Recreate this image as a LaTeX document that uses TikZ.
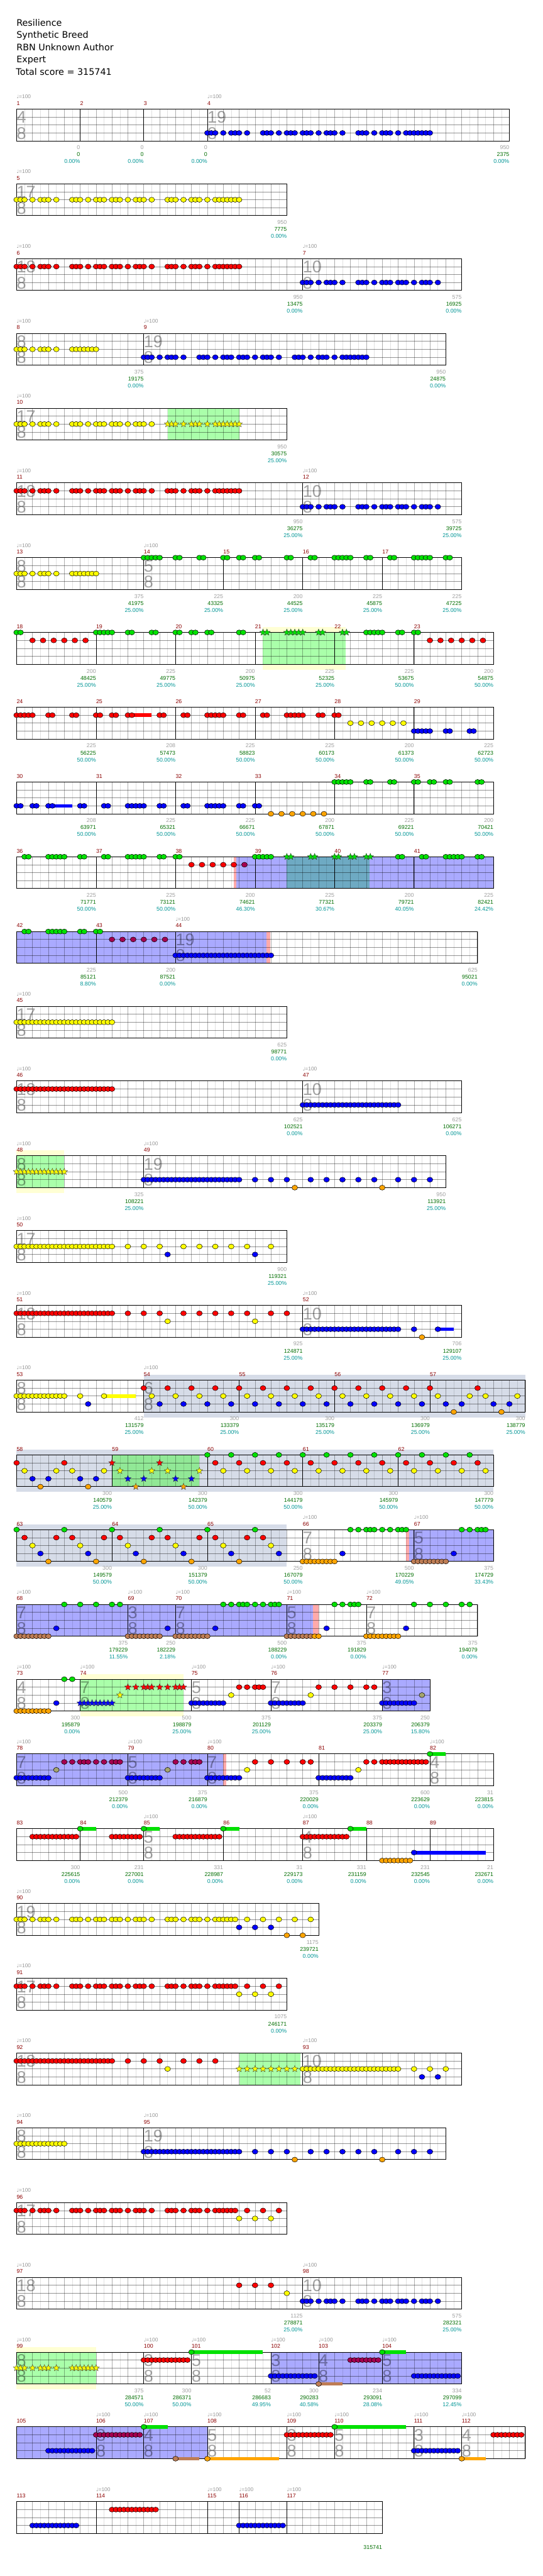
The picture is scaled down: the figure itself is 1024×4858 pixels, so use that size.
\documentclass[tikz,border=0pt]{standalone}
\usepackage{fontspec}
\setmainfont{DejaVu Sans}
\newfontfamily\lib{Liberation Sans}
\newfontfamily\dvs{DejaVu Sans}
\usetikzlibrary{shapes.geometric}
\definecolor{ngreen}{RGB}{0,225,0}
\definecolor{nred}{RGB}{255,0,0}
\definecolor{nyel}{RGB}{255,255,0}
\definecolor{nblue}{RGB}{0,0,255}
\definecolor{norg}{RGB}{255,165,0}
\definecolor{ared}{RGB}{165,0,80}
\definecolor{ayel}{RGB}{165,165,110}
\definecolor{aorg}{RGB}{190,125,85}
\definecolor{spgreen}{RGB}{170,255,170}
\definecolor{spgreenb}{RGB}{145,232,150}
\definecolor{spyel}{RGB}{255,255,212}
\definecolor{actblue}{RGB}{170,170,255}
\definecolor{overlap}{RGB}{110,170,195}
\definecolor{pinkst}{RGB}{255,170,170}
\definecolor{solobg}{RGB}{214,220,232}
\definecolor{mnum}{RGB}{140,0,0}
\definecolor{tgray}{RGB}{150,150,150}
\definecolor{sgray}{RGB}{160,160,160}
\definecolor{sgreen}{RGB}{0,110,0}
\definecolor{steal}{RGB}{0,150,150}
\tikzset{
 rowsc/.style={shift={(31.3pt,{-205.7pt-141pt*#1})},x=15pt,y=-15pt},
 nt/.style={draw=black,line width=0.6pt},
 spn/.style={star,star points=5,star point ratio=2.3,minimum size=13pt,inner sep=0pt,draw=black!80,line width=0.45pt},
 mnl/.style={anchor=base west,inner sep=0pt,text=mnum,font=\lib\fontsize{10.5}{12}\selectfont},
 tml/.style={anchor=base west,inner sep=0pt,text=tgray,font=\lib\fontsize{10}{12}\selectfont},
 tsl/.style={anchor=base west,inner sep=0pt,text=black,text opacity=0.36,font=\lib\fontsize{32}{32}\selectfont},
 st1/.style={anchor=base east,inner sep=0pt,text=sgray,font=\lib\fontsize{10.5}{12}\selectfont},
 st2/.style={st1,text=sgreen},
 st3/.style={st1,text=steal},
 hdr/.style={anchor=base west,inner sep=0pt,font=\dvs\fontsize{17}{20}\selectfont},
}
\newcommand\Bg[1]{\fill[white] (0,0) rectangle (#1,4);}
\newcommand\Grid[1]{\foreach \i in {1,...,#1}{\ifodd\i\relax\draw[black,opacity=0.12,line width=0.6pt] (\i,0)--(\i,4);\else\draw[black,opacity=0.32,line width=0.6pt] (\i,0)--(\i,4);\fi}\foreach \j in {1,2,3}{\draw[black,opacity=0.42,line width=0.8pt] (0,\j)--(#1,\j);}}
\newcommand\Frame[1]{\draw[line width=1.1pt] (0,0) rectangle (#1,4);}
\newcommand\Bars[1]{\foreach \b in {#1}{\draw[line width=0.7pt] (\b,0)--(\b,4);}}
\newcommand\Solo[2]{\fill[solobg] (#1,-0.67) rectangle (#2,4.67);}
\newcommand\SPy[2]{\fill[spyel] (#1,-0.67) rectangle (#2,4.67);}
\newcommand\SPg[2]{\fill[spgreen] (#1,0) rectangle (#2,4);}
\newcommand\Act[2]{\fill[actblue] (#1,0) rectangle (#2,4);}
\newcommand\Pink[2]{\fill[pinkst] (#1,0) rectangle (#2,4);}
\newcommand\Nt[3]{\foreach \q in {#3}{\draw[nt,fill=#1] (\q,#2) ellipse[x radius=5.4pt,y radius=4.7pt];}}
\newcommand\Ns[4]{\foreach \q in #4{\draw[nt,fill=#1] ({#3+\q},#2) ellipse[x radius=5.4pt,y radius=4.7pt];}}
\newcommand\Sr[3]{\foreach \q in {#3}{\node[spn,fill=#1] at (\q,#2) {};}}
\newcommand\Su[4]{\fill[#1] (#3,#2-0.22) rectangle (#4,#2+0.22);}
\newcommand\MN[2]{\node[mnl] at (#1,-0.49) {#2};}
\newcommand\TM[1]{\node[tml] at (#1,-1.31) {{\dvs\fontsize{9}{10}\selectfont ♩}=100};}
\newcommand\TSig[3]{\node[tsl] at (#1,1.78) {#2};\node[tsl] at (#1,3.78) {#3};}
\newcommand\Stat[4]{\node[st1] at (#1,5.09) {#2};\node[st2] at (#1,5.97) {#3};\node[st3] at (#1,6.84) {#4};}
\def\PP{0,0.5,1,2,3,3.5,4,5,7,7.5,8,9,10,10.5,11,12,12.5,13,14,15,15.5,16,17,19,19.5,20,21,22,22.5,23,24,25,25.5,26,26.5,27,27.5,28}
\def\PPm{0,0.5,1,2,3,3.5,4,5,7,7.5,8,9,10,10.5,11,12,12.5,13,14,15,15.5,16,17,19,19.5,20,21,22,22.5,23,24,25,25.5,26,26.5,27,27.5}
\def\QQ{0,0.5,1,2,3,3.5,4,5,7,7.5,8,9,10,10.5,11,12,12.5,13,14,15,15.5,16,17}
\def\RR{0,0.5,1,2,3,3.5,4,5,7,7.5,8,8.5,9,9.5,10}
\begin{document}
\begin{tikzpicture}
\useasboundingbox (0,0) rectangle (1024pt,-4858pt);
\fill[white] (0,0) rectangle (1024pt,-4858pt);
\node[hdr] (h1) at (31pt,-49.3pt) {Resilience};
\node[hdr] (h2) at (31pt,-72.3pt) {Synthetic Breed};
\node[hdr] (h3) at (31pt,-95.3pt) {RBN Unknown Author};
\node[hdr] (h4) at (31pt,-118.3pt) {Expert};
\node[hdr] (h5) at (30pt,-141.3pt) {Total score = 315741};
% row 0
\begin{scope}[rowsc=0]
\Bg{62}\Grid{62}\TSig{0}{4}{8}\TSig{24}{19}{8}\Frame{62}\Bars{8,16,24}
\Ns{nblue}{3}{24}{\PP}
\TM{0}\TM{24}\MN{0}{1}\MN{8}{2}\MN{16}{3}\MN{24}{4}
\Stat{8}{0}{0}{0.00\%}\Stat{16}{0}{0}{0.00\%}\Stat{24}{0}{0}{0.00\%}\Stat{62}{950}{2375}{0.00\%}
\end{scope}
% row 1
\begin{scope}[rowsc=1]
\Bg{34}\Grid{34}\TSig{0}{17}{8}\Frame{34}
\Ns{nyel}{2}{0}{\PP}
\TM{0}\MN{0}{5}\Stat{34}{950}{7775}{0.00\%}
\end{scope}
% row 2
\begin{scope}[rowsc=2]
\Bg{56}\Grid{56}\TSig{0}{18}{8}\TSig{36}{10}{8}\Frame{56}\Bars{36}
\Ns{nred}{1}{0}{\PP}\Ns{nblue}{3}{36}{\QQ}
\TM{0}\TM{36}\MN{0}{6}\MN{36}{7}
\Stat{36}{950}{13475}{0.00\%}\Stat{56}{575}{16925}{0.00\%}
\end{scope}
% row 3
\begin{scope}[rowsc=3]
\Bg{54}\Grid{54}\TSig{0}{8}{8}\TSig{16}{19}{8}\Frame{54}\Bars{16}
\Ns{nyel}{2}{0}{\RR}\Ns{nblue}{3}{16}{\PP}
\TM{0}\TM{16}\MN{0}{8}\MN{16}{9}
\Stat{16}{375}{19175}{0.00\%}\Stat{54}{950}{24875}{0.00\%}
\end{scope}
% row 4
\begin{scope}[rowsc=4]
\Bg{34}\SPg{19}{28}\Grid{34}\TSig{0}{17}{8}\Frame{34}
\Ns{nyel}{2}{0}{\QQ}\Sr{nyel}{2}{19,19.5,20,21,22,22.5,23,24,25,25.5,26,26.5,27,27.5,28}
\TM{0}\MN{0}{10}\Stat{34}{950}{30575}{25.00\%}
\end{scope}
% row 5
\begin{scope}[rowsc=5]
\Bg{56}\Grid{56}\TSig{0}{18}{8}\TSig{36}{10}{8}\Frame{56}\Bars{36}
\Ns{nred}{1}{0}{\PP}\Ns{nblue}{3}{36}{\QQ}
\TM{0}\TM{36}\MN{0}{11}\MN{36}{12}
\Stat{36}{950}{36275}{25.00\%}\Stat{56}{575}{39725}{25.00\%}
\end{scope}
% row 6
\begin{scope}[rowsc=6]
\Bg{56}\Grid{56}\TSig{0}{8}{8}\TSig{16}{5}{8}\Frame{56}\Bars{16,26,36,46}
\Ns{nyel}{2}{0}{\RR}
\Nt{ngreen}{0}{16,16.5,17,17.5,18,20,20.5,23,23.5,26,26.5,28,28.5,30,30.5,34,34.5,37,37.5,40,40.5,41,41.5,42,44,44.5,47,47.5,50,50.5,51,51.5,52,54,54.5}
\TM{0}\TM{16}\MN{0}{13}\MN{16}{14}\MN{26}{15}\MN{36}{16}\MN{46}{17}
\Stat{16}{375}{41975}{25.00\%}\Stat{26}{225}{43325}{25.00\%}\Stat{36}{200}{44525}{25.00\%}\Stat{46}{225}{45875}{25.00\%}\Stat{56}{225}{47225}{25.00\%}
\end{scope}
% row 7
\begin{scope}[rowsc=7]
\Bg{60}\SPy{31}{41.4}\SPg{31}{41.4}\Grid{60}\Frame{60}\Bars{10,20,30,40,50}
\Nt{ngreen}{0}{0,0.5,10,10.5,11,11.5,12,14,14.5,17,17.5,20,20.5,22,22.5,24,24.5,28,28.5,44,44.5,45,45.5,46,48,48.5,50,50.5}
\Sr{ngreen}{0}{31,31.5,34,34.5,35,35.5,36,38,38.5,41,41.5}
\Nt{nred}{1}{2,3.33,4.67,6,7.33,8.67,52,53.33,54.67,56,57.33,58.67}
\MN{0}{18}\MN{10}{19}\MN{20}{20}\MN{30}{21}\MN{40}{22}\MN{50}{23}
\Stat{10}{200}{48425}{25.00\%}\Stat{20}{225}{49775}{25.00\%}\Stat{30}{200}{50975}{25.00\%}\Stat{40}{225}{52325}{25.00\%}\Stat{50}{225}{53675}{50.00\%}\Stat{60}{200}{54875}{50.00\%}
\end{scope}
% row 8
\begin{scope}[rowsc=8]
\Bg{60}\Grid{60}\Frame{60}\Bars{10,20,30,40,50}
\Su{nred}{1}{14.5}{17}
\Nt{nred}{1}{0,0.5,1,1.5,2,4,4.5,7,7.5,10,10.5,12,12.5,14,14.5,18,18.5,21,21.5,24,24.5,25,25.5,26,28,28.5,31,31.5,34,34.5,35,35.5,36,38,38.5,40,40.5}
\Nt{nyel}{2}{42,43.33,44.67,46,47.33,48.67}
\Nt{nblue}{3}{50,50.5,51,51.5,52,54,54.5,57,57.5}
\MN{0}{24}\MN{10}{25}\MN{20}{26}\MN{30}{27}\MN{40}{28}\MN{50}{29}
\Stat{10}{225}{56225}{50.00\%}\Stat{20}{208}{57473}{50.00\%}\Stat{30}{225}{58823}{50.00\%}\Stat{40}{225}{60173}{50.00\%}\Stat{50}{200}{61373}{50.00\%}\Stat{60}{225}{62723}{50.00\%}
\end{scope}
% row 9
\begin{scope}[rowsc=9]
\Bg{60}\Grid{60}\Frame{60}\Bars{10,20,30,40,50}
\Su{nblue}{3}{4.5}{7}
\Nt{nblue}{3}{0,0.5,2,2.5,4,4.5,8,8.5,11,11.5,14,14.5,15,15.5,16,18,18.5,21,21.5,24,24.5,25,25.5,26,28,28.5,30,30.5}
\Nt{norg}{4}{32,33.33,34.67,36,37.33,38.67}
\Nt{ngreen}{0}{40,40.5,41,41.5,42,44,44.5,47,47.5,50,50.5,52,52.5,54,54.5,58,58.5}
\MN{0}{30}\MN{10}{31}\MN{20}{32}\MN{30}{33}\MN{40}{34}\MN{50}{35}
\Stat{10}{208}{63971}{50.00\%}\Stat{20}{225}{65321}{50.00\%}\Stat{30}{225}{66671}{50.00\%}\Stat{40}{200}{67871}{50.00\%}\Stat{50}{225}{69221}{50.00\%}\Stat{60}{200}{70421}{50.00\%}
\end{scope}
% row 10
\begin{scope}[rowsc=10]
\Bg{60}\Act{27.3}{60}\Pink{27.3}{27.65}\fill[overlap] (34,0) rectangle (44.4,4);\Grid{60}\Frame{60}\Bars{10,20,30,40,50}
\Nt{ngreen}{0}{1,1.5,4,4.5,5,5.5,6,8,8.5,11,11.5,14,14.5,15,15.5,16,18,18.5,20,20.5,30,30.5,31,31.5,32,48,48.5,51,51.5,54,54.5,55,55.5,56,58,58.5}
\Sr{ngreen}{0}{34,34.5,37,37.5,40,40.5,42,42.5,44,44.5}
\Nt{nred}{1}{22,23.33,24.67,26,27.33}\Nt{ared}{1}{28.67}
\MN{0}{36}\MN{10}{37}\MN{20}{38}\MN{30}{39}\MN{40}{40}\MN{50}{41}
\Stat{10}{225}{71771}{50.00\%}\Stat{20}{225}{73121}{50.00\%}\Stat{30}{200}{74621}{46.30\%}\Stat{40}{225}{77321}{30.67\%}\Stat{50}{200}{79721}{40.05\%}\Stat{60}{225}{82421}{24.42\%}
\end{scope}
% row 11
\begin{scope}[rowsc=11]
\Bg{58}\Act{0}{31.7}\Pink{31.4}{31.9}\Grid{58}\TSig{20}{19}{8}\Frame{58}\Bars{10,20}
\Nt{ngreen}{0}{1,1.5,4,4.5,5,5.5,6,8,8.5,10,10.5}
\Nt{ared}{1}{12,13.33,14.67,16,17.33,18.67}
\Nt{nblue}{3}{20,20.5,...,32}
\TM{20}\MN{0}{42}\MN{10}{43}\MN{20}{44}
\Stat{10}{225}{85121}{8.80\%}\Stat{20}{200}{87521}{0.00\%}\Stat{58}{625}{95021}{0.00\%}
\end{scope}
% row 12
\begin{scope}[rowsc=12]
\Bg{34}\Grid{34}\TSig{0}{17}{8}\Frame{34}
\Nt{nyel}{2}{0,0.5,...,12}
\TM{0}\MN{0}{45}\Stat{34}{625}{98771}{0.00\%}
\end{scope}
% row 13
\begin{scope}[rowsc=13]
\Bg{56}\Grid{56}\TSig{0}{18}{8}\TSig{36}{10}{8}\Frame{56}\Bars{36}
\Nt{nred}{1}{0,0.5,...,12}\Nt{nblue}{3}{36,36.5,...,48}
\TM{0}\TM{36}\MN{0}{46}\MN{36}{47}
\Stat{36}{625}{102521}{0.00\%}\Stat{56}{625}{106271}{0.00\%}
\end{scope}
% row 14
\begin{scope}[rowsc=14]
\Bg{54}\SPy{0}{6}\SPg{0}{6}\Grid{54}\TSig{0}{8}{8}\TSig{16}{19}{8}\Frame{54}\Bars{16}
\Sr{nyel}{2}{0,0.5,...,6}
\Nt{nblue}{3}{16,16.5,...,28}\Nt{nblue}{3}{30,32,34,37,39,41,43,45,48,50,52}\Nt{norg}{4}{35,46}
\TM{0}\TM{16}\MN{0}{48}\MN{16}{49}
\Stat{16}{325}{108221}{25.00\%}\Stat{54}{950}{113921}{25.00\%}
\end{scope}
% row 15
\begin{scope}[rowsc=15]
\Bg{34}\Grid{34}\TSig{0}{17}{8}\Frame{34}
\Nt{nyel}{2}{0,0.5,...,12}\Nt{nyel}{2}{14,16,18,21,23,25,27,29,32}\Nt{nblue}{3}{19,30}
\TM{0}\MN{0}{50}\Stat{34}{900}{119321}{25.00\%}
\end{scope}
% row 16
\begin{scope}[rowsc=16]
\Bg{56}\Grid{56}\TSig{0}{18}{8}\TSig{36}{10}{8}\Frame{56}\Bars{36}
\Nt{nred}{1}{0,0.5,...,12}\Nt{nred}{1}{14,16,18,21,23,25,27,29,32,34}\Nt{nyel}{2}{19,30}
\Su{nblue}{3}{53}{55}\Nt{nblue}{3}{36,36.5,...,48}\Nt{nblue}{3}{50,53}\Nt{norg}{4}{51}
\TM{0}\TM{36}\MN{0}{51}\MN{36}{52}
\Stat{36}{925}{124871}{25.00\%}\Stat{56}{706}{129107}{25.00\%}
\end{scope}
% row 17
\begin{scope}[rowsc=17]
\Bg{64}\Solo{16}{64}\Grid{64}\TSig{0}{8}{8}\TSig{16}{6}{8}\Frame{64}\Bars{16,28,40,52}
\Su{nyel}{2}{11}{15}
\Nt{nyel}{2}{0,0.5,...,6}\Nt{nyel}{2}{8,11}\Nt{nblue}{3}{9}
\Nt{nred}{1}{16,19,...,52}\Nt{nred}{1}{58}
\Nt{nyel}{2}{17,20,...,53}\Nt{nyel}{2}{57,59,63}
\Nt{nblue}{3}{18,21,...,54}\Nt{nblue}{3}{56,60,62}
\Nt{norg}{4}{55,61}
\TM{0}\TM{16}\MN{0}{53}\MN{16}{54}\MN{28}{55}\MN{40}{56}\MN{52}{57}
\Stat{16}{412}{131579}{25.00\%}\Stat{28}{300}{133379}{25.00\%}\Stat{40}{300}{135179}{25.00\%}\Stat{52}{300}{136979}{25.00\%}\Stat{64}{300}{138779}{25.00\%}
\end{scope}
% row 18
\begin{scope}[rowsc=18]
\Bg{60}\Solo{0}{60}\fill[spgreenb] (12,0) rectangle (23,4);\Grid{60}\Frame{60}\Bars{12,24,36,48}
\Nt{nred}{1}{0,6}\Nt{nyel}{2}{1,5,7,11}\Nt{nblue}{3}{2,4,8,10}\Nt{norg}{4}{3,9}
\Sr{nred}{1}{12,18}\Sr{nyel}{2}{13,17,19,23}\Sr{nblue}{3}{14,16,20,22}\Sr{norg}{4}{15,21}
\Nt{ngreen}{0}{24,27,...,57}\Nt{nred}{1}{25,28,...,58}\Nt{nyel}{2}{26,29,...,59}
\MN{0}{58}\MN{12}{59}\MN{24}{60}\MN{36}{61}\MN{48}{62}
\Stat{12}{300}{140579}{25.00\%}\Stat{24}{300}{142379}{50.00\%}\Stat{36}{300}{144179}{50.00\%}\Stat{48}{300}{145979}{50.00\%}\Stat{60}{300}{147779}{50.00\%}
\end{scope}
% row 19
\begin{scope}[rowsc=19]
\Bg{60}\Solo{0}{34}\Act{49}{60}\Pink{49}{49.35}\Grid{60}\TSig{36}{7}{8}\TSig{50}{5}{8}\Frame{60}\Bars{12,24,36,50}
\Nt{ngreen}{0}{0,6,...,30}\Nt{nred}{1}{1,5,7,11,13,17,19,23,25,29,31}\Nt{nyel}{2}{2,8,...,32}\Nt{nblue}{3}{3,9,...,33}\Nt{norg}{4}{4,10,...,28}
\Nt{norg}{4}{36,36.5,...,40}\Nt{nblue}{3}{41}\Nt{ngreen}{0}{42,43,44,44.5,45,46,47,48,48.5,49}
\Nt{aorg}{4}{50,50.5,...,54}\Nt{nblue}{3}{55}\Nt{ngreen}{0}{56,57,58,58.5,59}
\TM{36}\TM{50}\MN{0}{63}\MN{12}{64}\MN{24}{65}\MN{36}{66}\MN{50}{67}
\Stat{12}{300}{149579}{50.00\%}\Stat{24}{300}{151379}{50.00\%}\Stat{36}{250}{167079}{50.00\%}\Stat{50}{500}{170229}{49.05\%}\Stat{60}{375}{174729}{33.43\%}
\end{scope}
% row 20
\begin{scope}[rowsc=20]
\Bg{58}\Act{0}{37.3}\Pink{37.3}{38}\Grid{58}\TSig{0}{7}{8}\TSig{14}{3}{8}\TSig{20}{7}{8}\TSig{34}{5}{8}\TSig{44}{7}{8}\Frame{58}\Bars{14,20,34,44}
\Nt{aorg}{4}{0,0.5,...,4}\Nt{nblue}{3}{5}\Nt{ngreen}{0}{6,8,10,12,13}
\Nt{aorg}{4}{14,14.5,...,18}\Nt{nblue}{3}{19}
\Nt{aorg}{4}{20,20.5,...,24}\Nt{nblue}{3}{25}\Nt{ngreen}{0}{26,27,28,28.5,29,30,31,32,32.5,33}
\Nt{aorg}{4}{34,34.5,...,37}\Nt{norg}{4}{37.5,38}\Nt{nblue}{3}{39}\Nt{ngreen}{0}{40,41,42,42.5,43}
\Nt{norg}{4}{44,44.5,...,48}\Nt{nblue}{3}{49}\Nt{ngreen}{0}{50,52,54,56,57}
\TM{0}\TM{14}\TM{20}\TM{34}\TM{44}\MN{0}{68}\MN{14}{69}\MN{20}{70}\MN{34}{71}\MN{44}{72}
\Stat{14}{375}{179229}{11.55\%}\Stat{20}{250}{182229}{2.18\%}\Stat{34}{500}{188229}{0.00\%}\Stat{44}{375}{191829}{0.00\%}\Stat{58}{375}{194079}{0.00\%}
\end{scope}
% row 21
\begin{scope}[rowsc=21]
\Bg{52}\SPy{8}{21}\SPg{8}{21}\Act{46}{52}\Grid{52}\TSig{0}{4}{8}\TSig{8}{7}{8}\TSig{22}{5}{8}\TSig{32}{7}{8}\TSig{46}{3}{8}\Frame{52}\Bars{8,22,32,46}
\Nt{norg}{4}{0,0.5,...,4}\Nt{nblue}{3}{5}\Nt{ngreen}{0}{6,7}
\Sr{nblue}{3}{8,8.5,...,12}\Sr{nyel}{2}{13}\Sr{nred}{1}{14,15,16,16.5,17,18,19,20,20.5,21}
\Nt{nblue}{3}{22,22.5,...,26}\Nt{nyel}{2}{27}\Nt{nred}{1}{28,29,30,30.5,31}
\Nt{nblue}{3}{32,32.5,...,36}\Nt{nyel}{2}{37}\Nt{nred}{1}{38,40,42,44,45}
\Nt{nblue}{3}{46,46.5,...,50}\Nt{ayel}{2}{51}
\TM{0}\TM{8}\TM{22}\TM{32}\TM{46}\MN{0}{73}\MN{8}{74}\MN{22}{75}\MN{32}{76}\MN{46}{77}
\Stat{8}{300}{195879}{0.00\%}\Stat{22}{500}{198879}{25.00\%}\Stat{32}{375}{201129}{25.00\%}\Stat{46}{375}{203379}{25.00\%}\Stat{52}{250}{206379}{15.80\%}
\end{scope}
% row 22
\begin{scope}[rowsc=22]
\Bg{60}\Act{0}{26}\Pink{26}{26.4}\Grid{60}\TSig{0}{7}{8}\TSig{14}{5}{8}\TSig{24}{7}{8}\TSig{52}{4}{8}\Frame{60}\Bars{14,24,38,52}
\Nt{nblue}{3}{0,0.5,...,4}\Nt{ayel}{2}{5}\Nt{ared}{1}{6,7,8,8.5,9,10,11,12,12.5,13}
\Nt{nblue}{3}{14,14.5,...,18}\Nt{ayel}{2}{19}\Nt{ared}{1}{20,21,22,22.5,23}
\Nt{nblue}{3}{24,24.5,...,28}\Nt{nyel}{2}{29}\Nt{nred}{1}{30,32,34,36,37}
\Nt{nblue}{3}{38,38.5,...,42}\Nt{nyel}{2}{43}\Nt{nred}{1}{44,45}\Nt{nred}{1}{46,46.5,...,51.5}
\Su{ngreen}{0}{52}{54}\Nt{ngreen}{0}{52}
\TM{0}\TM{14}\TM{24}\TM{52}\MN{0}{78}\MN{14}{79}\MN{24}{80}\MN{38}{81}\MN{52}{82}
\Stat{14}{500}{212379}{0.00\%}\Stat{24}{375}{216879}{0.00\%}\Stat{38}{375}{220029}{0.00\%}\Stat{52}{600}{223629}{0.00\%}\Stat{60}{31}{223815}{0.00\%}
\end{scope}
% row 23
\begin{scope}[rowsc=23]
\Bg{60}\Grid{60}\TSig{16}{5}{8}\TSig{36}{4}{8}\Frame{60}\Bars{8,16,26,36,44,52}
\Nt{nred}{1}{2,2.5,...,7.5}\Nt{nred}{1}{12,12.5,...,15.5}\Nt{nred}{1}{20,20.5,...,25.5}\Nt{nred}{1}{36,36.5,...,41.5}
\Su{ngreen}{0}{8}{10}\Su{ngreen}{0}{16}{18}\Su{ngreen}{0}{26}{28}\Su{ngreen}{0}{42}{44}
\Nt{ngreen}{0}{8,16,26,42}
\Nt{norg}{4}{46,46.5,...,49.5}
\Su{nblue}{3}{50}{59}\Nt{nblue}{3}{50}
\TM{16}\TM{36}\MN{0}{83}\MN{8}{84}\MN{16}{85}\MN{26}{86}\MN{36}{87}\MN{44}{88}\MN{52}{89}
\Stat{8}{300}{225615}{0.00\%}\Stat{16}{231}{227001}{0.00\%}\Stat{26}{331}{228987}{0.00\%}\Stat{36}{31}{229173}{0.00\%}\Stat{44}{331}{231159}{0.00\%}\Stat{52}{231}{232545}{0.00\%}\Stat{60}{21}{232671}{0.00\%}
\end{scope}
% row 24
\begin{scope}[rowsc=24]
\Bg{38}\Grid{38}\TSig{0}{19}{8}\Frame{38}
\Ns{nyel}{2}{0}{\PPm}\Nt{nyel}{2}{29,31,33,35,37}\Nt{nblue}{3}{28,30,32}\Nt{norg}{4}{34,36}
\TM{0}\MN{0}{90}\Stat{38}{1175}{239721}{0.00\%}
\end{scope}
% row 25
\begin{scope}[rowsc=25]
\Bg{34}\Grid{34}\TSig{0}{17}{8}\Frame{34}
\Ns{nred}{1}{0}{\PPm}\Nt{nred}{1}{29,31,33}\Nt{nyel}{2}{28,30,32}
\TM{0}\MN{0}{91}\Stat{34}{1075}{246171}{0.00\%}
\end{scope}
% row 26 (estimated)
\begin{scope}[rowsc=26]
\Bg{56}\SPg{28}{35.7}\Grid{56}\TSig{0}{18}{8}\TSig{36}{10}{8}\Frame{56}\Bars{36}
\Nt{nred}{1}{0,0.5,...,12}\Nt{nred}{1}{14,16,18,21,23,25}\Nt{nyel}{2}{19}
\Sr{nyel}{2}{28,29,30,31,32,33,34,35}
\Nt{nyel}{2}{36,36.5,...,48}\Nt{nyel}{2}{50,52,54}\Nt{nblue}{3}{51,53}
\TM{0}\TM{36}\MN{0}{92}\MN{36}{93}
\end{scope}
% row 27 (estimated)
\begin{scope}[rowsc=27]
\Bg{54}\Grid{54}\TSig{0}{8}{8}\TSig{16}{19}{8}\Frame{54}\Bars{16}
\Nt{nyel}{2}{0,0.5,...,6}
\Nt{nblue}{3}{16,16.5,...,28}\Nt{nblue}{3}{30,32,34,37,39,41,43,45,48,50,52}\Nt{norg}{4}{35,46}
\TM{0}\TM{16}\MN{0}{94}\MN{16}{95}
\end{scope}
% row 28 (estimated)
\begin{scope}[rowsc=28]
\Bg{34}\Grid{34}\TSig{0}{17}{8}\Frame{34}
\Ns{nred}{1}{0}{\PPm}\Nt{nred}{1}{29,31,33}\Nt{nyel}{2}{28,30,32}
\TM{0}\MN{0}{96}
\end{scope}
% row 29
\begin{scope}[rowsc=29]
\Bg{56}\Grid{56}\TSig{0}{18}{8}\TSig{36}{10}{8}\Frame{56}\Bars{36}
\Nt{nred}{1}{28,30,32}\Nt{nyel}{2}{34}\Ns{nblue}{3}{36}{\QQ}
\TM{0}\TM{36}\MN{0}{97}\MN{36}{98}
\Stat{36}{1125}{278871}{25.00\%}\Stat{56}{575}{282321}{25.00\%}
\end{scope}
% row 30
\begin{scope}[rowsc=30]
\Bg{56}\SPy{0}{10}\SPg{0}{10}\Act{32}{56}\Grid{56}\TSig{0}{8}{8}\TSig{16}{3}{8}\TSig{22}{5}{8}\TSig{32}{3}{8}\TSig{38}{4}{8}\TSig{46}{5}{8}\Frame{56}\Bars{16,22,32,38,46}
\Sr{nyel}{2}{0,0.5,1,2,3,3.5,4,5,7,7.5,8,8.5,9,9.5,10}
\Nt{nred}{1}{16,16.5,...,21.5}
\Su{ngreen}{0}{22}{31}\Nt{ngreen}{0}{22}
\Nt{nblue}{3}{32,32.5,...,37.5}
\Su{aorg}{4}{38}{41}\Nt{aorg}{4}{38}\Nt{ared}{1}{42,42.5,...,45.5}
\Su{ngreen}{0}{46}{49}\Nt{ngreen}{0}{46}\Nt{nblue}{3}{50,50.5,...,55.5}
\TM{0}\TM{16}\TM{22}\TM{32}\TM{38}\TM{46}
\MN{0}{99}\MN{16}{100}\MN{22}{101}\MN{32}{102}\MN{38}{103}\MN{46}{104}
\Stat{16}{375}{284571}{50.00\%}\Stat{22}{300}{286371}{50.00\%}\Stat{32}{52}{286683}{49.95\%}\Stat{38}{300}{290283}{40.58\%}\Stat{46}{234}{293091}{28.08\%}\Stat{56}{334}{297099}{12.45\%}
\end{scope}
% row 31 (partly estimated)
\begin{scope}[rowsc=31]
\Bg{64}\Act{0}{24}\Grid{64}\TSig{10}{3}{8}\TSig{16}{4}{8}\TSig{24}{5}{8}\TSig{34}{3}{8}\TSig{40}{5}{8}\TSig{50}{3}{8}\TSig{56}{4}{8}\Frame{64}\Bars{10,16,24,34,40,50,56}
\Nt{nblue}{3}{4,4.5,...,9.5}
\Nt{ared}{1}{10,10.5,...,15.5}
\Su{ngreen}{0}{16}{19}\Nt{ngreen}{0}{16}
\Su{aorg}{4}{20}{23}\Nt{aorg}{4}{20}
\Su{norg}{4}{24}{33}\Nt{norg}{4}{24}
\Nt{nred}{1}{34,34.5,...,39.5}
\Su{ngreen}{0}{40}{49}\Nt{ngreen}{0}{40}
\Nt{nblue}{3}{50,50.5,...,55.5}
\Su{norg}{4}{56}{59}\Nt{norg}{4}{56}
\Nt{nred}{1}{60,60.5,...,63.5}
\TM{10}\TM{16}\TM{24}\TM{34}\TM{40}\TM{50}\TM{56}
\MN{0}{105}\MN{10}{106}\MN{16}{107}\MN{24}{108}\MN{34}{109}\MN{40}{110}\MN{50}{111}\MN{56}{112}
\end{scope}
% row 32 (estimated)
\begin{scope}[rowsc=32]
\Bg{46}\Grid{46}\Frame{46}\Bars{10,24,28,34}
\Nt{nblue}{3}{2,2.5,...,7.5}\Nt{nred}{1}{12,12.5,...,17.5}\Nt{nblue}{3}{28,28.5,...,33.5}
\TM{10}\TM{24}\TM{28}\TM{34}
\MN{0}{113}\MN{10}{114}\MN{24}{115}\MN{28}{116}\MN{34}{117}
\node[st2] at (46,5.97) {315741};
\end{scope}
\end{tikzpicture}
\end{document}
